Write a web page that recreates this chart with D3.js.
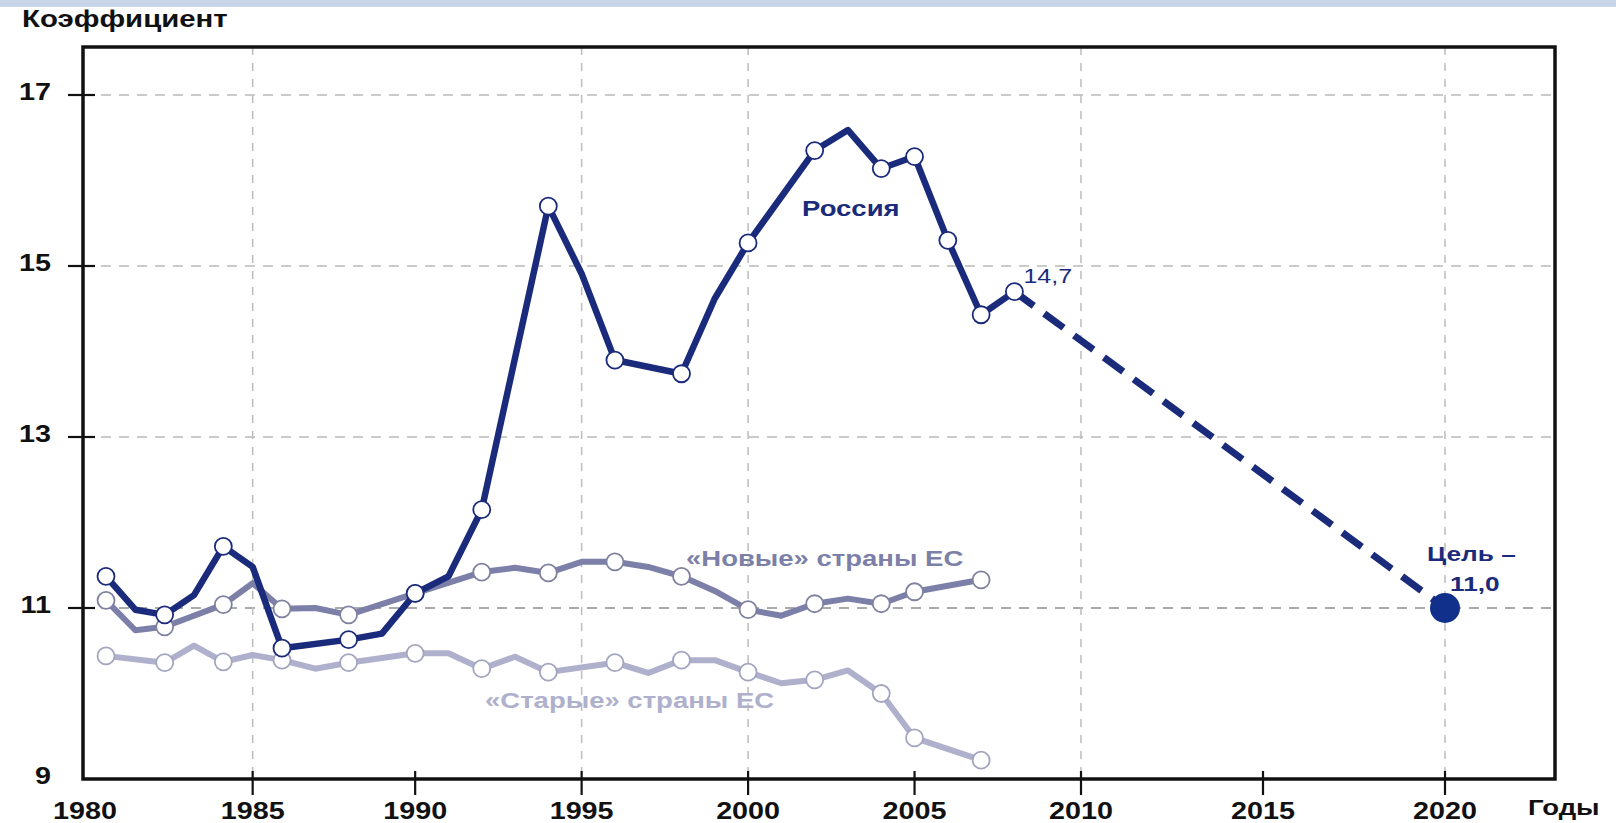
<!DOCTYPE html>
<html>
<head>
<meta charset="utf-8">
<script src="https://cdn.jsdelivr.net/npm/d3@7"></script>
<style>
  body { margin: 0; background: #fff; }
  svg { display: block; }
</style>
</head>
<body>
<svg id="chart" width="1616" height="823"></svg>
<script>
// Коэффициент смертности: Россия, «новые» и «старые» страны ЕС, цель на 2020 год

const russiaYears  = [1980, 1981, 1982, 1983, 1984, 1985, 1986, 1988, 1989, 1990, 1991, 1992, 1994, 1995, 1996, 1998, 1999, 2000, 2002, 2003, 2004, 2005, 2006, 2007, 2008];
const russiaValues = [11.37, 10.98, 10.92, 11.15, 11.72, 11.48, 10.53, 10.63, 10.70, 11.17, 11.37, 12.15, 15.70, 14.91, 13.90, 13.74, 14.62, 15.27, 16.35, 16.59, 16.14, 16.28, 15.30, 14.43, 14.7];
const russiaMarked = [1980, 1982, 1984, 1986, 1988, 1990, 1992, 1994, 1996, 1998, 2000, 2002, 2004, 2005, 2006, 2007, 2008];

const newEuYears  = [1980, 1981, 1982, 1984, 1985, 1986, 1987, 1988, 1990, 1992, 1993, 1994, 1995, 1996, 1997, 1998, 1999, 2000, 2001, 2002, 2003, 2004, 2005, 2006, 2007];
const newEuValues = [11.09, 10.74, 10.78, 11.04, 11.29, 10.99, 11.00, 10.92, 11.17, 11.42, 11.47, 11.41, 11.54, 11.54, 11.48, 11.37, 11.20, 10.98, 10.91, 11.05, 11.11, 11.05, 11.19, 11.26, 11.33];
const newEuMarked = [1980, 1982, 1984, 1986, 1988, 1990, 1992, 1994, 1996, 1998, 2000, 2002, 2004, 2005, 2007];

const oldEuYears  = [1980, 1982, 1983, 1984, 1985, 1986, 1987, 1988, 1990, 1991, 1992, 1993, 1994, 1996, 1997, 1998, 1999, 2000, 2001, 2002, 2003, 2004, 2005, 2007];
const oldEuValues = [10.44, 10.36, 10.56, 10.37, 10.45, 10.39, 10.29, 10.36, 10.47, 10.47, 10.29, 10.43, 10.25, 10.36, 10.24, 10.39, 10.39, 10.25, 10.12, 10.16, 10.27, 10.00, 9.48, 9.22];
const oldEuMarked = [1980, 1982, 1984, 1986, 1988, 1990, 1992, 1994, 1996, 1998, 2000, 2002, 2004, 2005, 2007];

// Прогноз: от последнего значения к цели
const targetYears  = [2008, 2020];
const targetValues = [14.7, 11.0];

const xTickYears   = [1980, 1985, 1990, 1995, 2000, 2005, 2010, 2015, 2020];
const xGridYears   = [1985, 1995, 2000, 2010, 2020];
const yTickValues  = [9, 11, 13, 15, 17];
const yGridValues  = [11, 13, 15, 17];

const seriesNames = {
  russia: "Россия",
  newEu: "«Новые» страны ЕС",
  oldEu: "«Старые» страны ЕС"
};

// ---- layout ----
const svg = d3.select("#chart");
const plotLeft = 83, plotRight = 1555, plotTop = 47, plotBottom = 779;
const SX = 1.25;                       // wide lettering of the labels
const FONT = "'Liberation Sans', Arial, sans-serif";

const NAVY = "#1b2b7b";
const NEW_EU = "#7c7fa8";
const OLD_EU = "#aeb0cc";

const x = d3.scaleLinear()
  .domain([1980, 1986, 2010, 2020])
  .range([106, 282, 1081, 1445]);
const y = d3.scaleLinear()
  .domain([9, 17])
  .range([plotBottom, 95]);

function zip(years, values) {
  return years.map((yr, i) => ({ year: yr, value: values[i] }));
}

function label(parent, px, py, str, opt) {
  return parent.append("text")
    .attr("transform", `translate(${px},${py}) scale(${SX},1)`)
    .attr("text-anchor", opt.anchor || "start")
    .attr("font-family", FONT)
    .attr("font-size", opt.size)
    .attr("font-weight", opt.weight || "bold")
    .attr("fill", opt.fill || "#111")
    .text(str);
}

// top band
svg.append("rect").attr("x", 0).attr("y", 0).attr("width", 1616).attr("height", 7).attr("fill", "#c8d5e9");

// ---- grid ----
const grid = svg.append("g");
grid.selectAll("line.h").data(yGridValues).join("line")
  .attr("x1", plotLeft).attr("x2", plotRight - 3)
  .attr("y1", d => y(d)).attr("y2", d => y(d))
  .attr("stroke", d => d === 11 ? "#8f8f8f" : "#b9b9b9")
  .attr("stroke-width", 1.4)
  .attr("stroke-dasharray", "10,8");
grid.selectAll("line.v").data(xGridYears).join("line")
  .attr("x1", d => x(d)).attr("x2", d => x(d))
  .attr("y1", plotTop).attr("y2", plotBottom)
  .attr("stroke", "#bcbcbc")
  .attr("stroke-width", 1.5)
  .attr("stroke-dasharray", "8,8");

// ---- series ----
const line = d3.line().x(d => x(d.year)).y(d => y(d.value));

function drawSeries(years, values, marked, color, outline, width) {
  const data = zip(years, values);
  const g = svg.append("g");
  g.append("path").datum(data)
    .attr("d", line)
    .attr("fill", "none")
    .attr("stroke", color)
    .attr("stroke-width", width)
    .attr("stroke-linejoin", "round")
    .attr("stroke-linecap", "round");
  return { g, data: data.filter(d => marked.includes(d.year)), outline };
}

function drawMarkers(s) {
  s.g.selectAll("circle").data(s.data).join("circle")
    .attr("cx", d => x(d.year)).attr("cy", d => y(d.value))
    .attr("r", 8.5)
    .attr("fill", "#fff")
    .attr("stroke", s.outline)
    .attr("stroke-width", 1.8);
}

const oldEu = drawSeries(oldEuYears, oldEuValues, oldEuMarked, OLD_EU, "#a3a5c0", 6);
drawMarkers(oldEu);
const newEu = drawSeries(newEuYears, newEuValues, newEuMarked, NEW_EU, "#7f819f", 6);
drawMarkers(newEu);

// forecast dashed segment
svg.append("path").datum(zip(targetYears, targetValues))
  .attr("d", line)
  .attr("fill", "none")
  .attr("stroke", NAVY)
  .attr("stroke-width", 7)
  .attr("stroke-dasharray", "24,13");

const russia = drawSeries(russiaYears, russiaValues, russiaMarked, NAVY, NAVY, 6.5);
drawMarkers(russia);

// target point
svg.append("circle")
  .attr("cx", x(targetYears[1])).attr("cy", y(targetValues[1]))
  .attr("r", 15)
  .attr("fill", "#10308c");

// ---- frame and axes ----
svg.append("rect")
  .attr("x", plotLeft).attr("y", plotTop)
  .attr("width", plotRight - plotLeft).attr("height", plotBottom - plotTop)
  .attr("fill", "none").attr("stroke", "#111").attr("stroke-width", 3.5);

svg.append("g").selectAll("line").data(xTickYears.slice(1)).join("line")
  .attr("x1", d => x(d)).attr("x2", d => x(d))
  .attr("y1", plotBottom - 8).attr("y2", plotBottom + 16)
  .attr("stroke", "#111").attr("stroke-width", 2.2);

svg.append("g").selectAll("line").data(yGridValues).join("line")
  .attr("x1", plotLeft - 15).attr("x2", plotLeft + 12)
  .attr("y1", d => y(d)).attr("y2", d => y(d))
  .attr("stroke", "#111").attr("stroke-width", 2.2);

const xLabels = svg.append("g");
xTickYears.forEach((d, i) => {
  label(xLabels, i === 0 ? plotLeft + 2 : x(d), plotBottom + 40, String(d),
        { size: 23, anchor: "middle" });
});

const yLabels = svg.append("g");
yTickValues.forEach(d => {
  label(yLabels, 51, y(d) + 5, String(d), { size: 23, anchor: "end" });
});

label(svg, 22, 27, "Коэффициент", { size: 23.5 });
label(svg, 1528, 815, "Годы", { size: 22 });

// ---- series labels ----
label(svg, 802, 216, seriesNames.russia, { size: 22, fill: NAVY });
label(svg, 686, 566, seriesNames.newEu, { size: 22, fill: NEW_EU });
label(svg, 485, 708, seriesNames.oldEu, { size: 22, fill: OLD_EU });

// value of the last observed point, just above and to the right of its marker
label(svg, x(targetYears[0]) + 9, y(targetValues[0]) - 9,
      String(targetValues[0]).replace(".", ","), { size: 20, weight: "normal", fill: NAVY });
label(svg, 1427, 561, "Цель –", { size: 21, fill: NAVY });
label(svg, 1450, 591, targetValues[1].toFixed(1).replace(".", ","), { size: 21, fill: NAVY });
</script>
</body>
</html>
